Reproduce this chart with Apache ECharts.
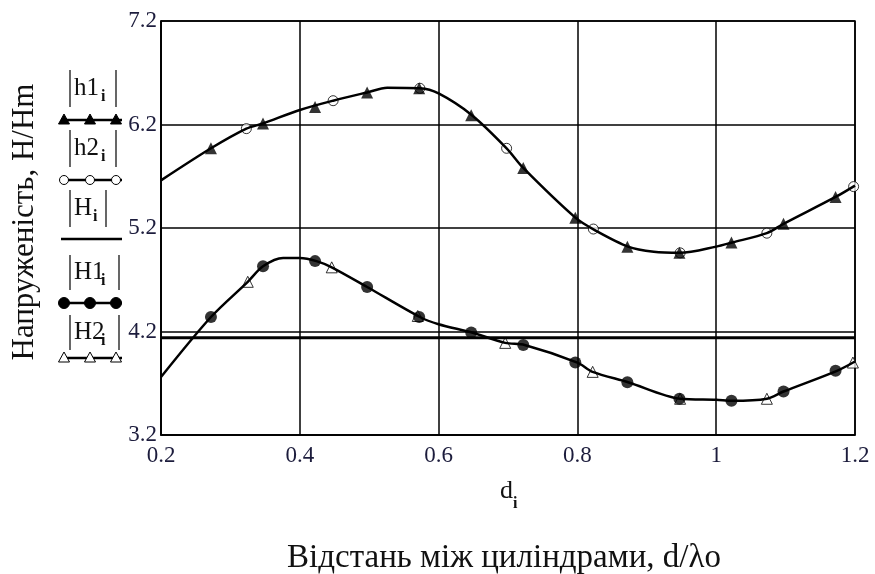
<!DOCTYPE html>
<html>
<head>
<meta charset="utf-8">
<script src="https://cdn.jsdelivr.net/npm/echarts@6/dist/echarts.min.js"></script>
<style>
  html, body { margin: 0; padding: 0; background: #fff; }
  #chart { width: 875px; height: 574px; }
</style>
</head>
<body>
<div id="chart"></div>
<script>
// верхня крива |h1|, |h2| (збігаються)
var dUp = [0.2, 0.272, 0.323, 0.347, 0.4, 0.448, 0.497, 0.526, 0.573, 0.6, 0.648, 0.698, 0.722, 0.797, 0.825, 0.873, 0.91, 0.948, 1.0, 1.023, 1.073, 1.097, 1.172, 1.2]
var vUp = [5.66, 5.97, 6.16, 6.21, 6.34, 6.43, 6.51, 6.555, 6.55, 6.5, 6.29, 5.97, 5.78, 5.30, 5.18, 5.02, 4.97, 4.96, 5.02, 5.06, 5.15, 5.24, 5.50, 5.61]
// нижня крива |H1|, |H2|
var dLow = [0.2, 0.272, 0.325, 0.347, 0.376, 0.4, 0.424, 0.446, 0.497, 0.573, 0.6, 0.648, 0.696, 0.724, 0.8, 0.822, 0.873, 0.948, 1.0, 1.023, 1.073, 1.097, 1.174, 1.2]
var vLow = [3.76, 4.34, 4.68, 4.83, 4.91, 4.91, 4.88, 4.82, 4.63, 4.34, 4.27, 4.19, 4.09, 4.07, 3.90, 3.81, 3.71, 3.55, 3.54, 3.53, 3.55, 3.62, 3.82, 3.91]

// маркери
var dH1m = [0.272, 0.347, 0.422, 0.497, 0.572, 0.647, 0.722, 0.797, 0.872, 0.947, 1.022, 1.097, 1.172]
var vh1m = [5.97, 6.21, 6.37, 6.51, 6.55, 6.29, 5.78, 5.30, 5.02, 4.96, 5.06, 5.24, 5.50]
var dh2m = [0.323, 0.448, 0.573, 0.698, 0.823, 0.948, 1.073, 1.198]
var vh2m = [6.16, 6.43, 6.55, 5.97, 5.19, 4.96, 5.15, 5.60]
var vH1m = [4.34, 4.83, 4.88, 4.63, 4.34, 4.19, 4.07, 3.90, 3.71, 3.55, 3.53, 3.62, 3.82]
var dH2m = [0.325, 0.446, 0.57, 0.696, 0.822, 0.948, 1.073, 1.197]
var vH2m = [4.68, 4.82, 4.35, 4.09, 3.81, 3.55, 3.55, 3.90]

// |H| - стала
var dH = [0.2, 1.2]
var vH = [4.14, 4.14]

function zip(xs, ys) {
    return xs.map(function (x, i) { return [x, ys[i]] })
}

var serif = 'Liberation Serif'
var chart = echarts.init(document.getElementById('chart'))

// легенда в стилі Mathcad
var graphics = []
function bars(y0, y1, xr) {
    graphics.push({ type: 'line', shape: { x1: 70, y1: y0, x2: 70, y2: y1 }, style: { stroke: '#000', lineWidth: 1.2 } })
    graphics.push({ type: 'line', shape: { x1: xr, y1: y0, x2: xr, y2: y1 }, style: { stroke: '#000', lineWidth: 1.2 } })
}
function label(txt, sub, x, yBase) {
    graphics.push({ type: 'text', left: x, top: yBase - 22, style: { text: txt, font: '25px ' + serif, fill: '#111' } })
    graphics.push({ type: 'text', left: x + (txt.length === 1 ? 19 : 27), top: yBase - 9, style: { text: sub, font: 'bold 16px ' + serif, fill: '#111' } })
}
function sample(y, kind) {
    graphics.push({ type: 'line', shape: { x1: 61, y1: y, x2: 122, y2: y }, style: { stroke: '#000', lineWidth: 2.5 } })
    ;[64, 90, 116].forEach(function (x) {
        if (kind === 'tri' || kind === 'otri') {
            graphics.push({ type: 'polygon', shape: { points: [[x, y - 6], [x - 5.5, y + 4], [x + 5.5, y + 4]] },
                style: { fill: kind === 'tri' ? '#000' : '#fff', stroke: '#000', lineWidth: 1 } })
        } else if (kind === 'circ' || kind === 'ocirc') {
            graphics.push({ type: 'circle', shape: { cx: x, cy: y, r: kind === 'circ' ? 5.5 : 4.5 },
                style: { fill: kind === 'circ' ? '#000' : '#fff', stroke: '#000', lineWidth: 1 } })
        }
    })
}
bars(70, 107, 116); label('h1', 'i', 74, 98); sample(120, 'tri')
bars(130, 167, 116); label('h2', 'i', 74, 158); sample(180, 'ocirc')
bars(190, 227, 106); label('H', 'i', 74, 218); sample(239, 'none')
bars(255, 290, 119); label('H1', 'i', 74, 282); sample(303, 'circ')
bars(315, 350, 119); label('H2', 'i', 74, 342); sample(358, 'otri')

graphics.push({ type: 'text', left: 500, top: 478, style: { text: 'd', font: '26px ' + serif, fill: '#111' } })
graphics.push({ type: 'text', left: 513, top: 496, style: { text: 'i', font: 'bold 16px ' + serif, fill: '#111' } })
graphics.push({ type: 'text', x: 504, y: 558, style: { text: 'Відстань між циліндрами, d/λo', font: '33px ' + serif, fill: '#111', align: 'center', verticalAlign: 'middle' } })
graphics.push({ type: 'text', x: 25, y: 222, rotation: Math.PI / 2, style: { text: 'Напруженість, Н/Нm', font: '31px ' + serif, fill: '#111', align: 'center', verticalAlign: 'middle' } })

var option = {
    backgroundColor: '#fff',
    animation: false,
    grid: { left: 161, right: 20, top: 21, bottom: 139, show: true, borderColor: '#000', borderWidth: 1.5 },
    xAxis: {
        type: 'value', min: 0.2, max: 1.2, interval: 0.2,
        axisLine: { show: true, lineStyle: { color: '#000', width: 1.5 } },
        axisTick: { show: false },
        splitLine: { show: true, lineStyle: { color: '#000', width: 1.5 } },
        axisLabel: { color: '#1c1c3c', fontFamily: serif, fontSize: 23, margin: 9,
            formatter: function (v) { return String(Math.round(v * 10) / 10) } }
    },
    yAxis: {
        type: 'value', min: 3.2, max: 7.2, interval: 1,
        axisLine: { show: true, lineStyle: { color: '#000', width: 1.5 } },
        axisTick: { show: false },
        splitLine: { show: true, lineStyle: { color: '#000', width: 1.5 } },
        axisLabel: { color: '#1c1c3c', fontFamily: serif, fontSize: 23, margin: 4,
            formatter: function (v) { return v.toFixed(1) } }
    },
    graphic: graphics,
    series: [
        { name: 'H', type: 'line', data: zip(dH, vH), symbol: 'none', lineStyle: { color: '#000', width: 3 } },
        { name: 'h', type: 'line', data: zip(dUp, vUp), smooth: 0.3, symbol: 'none', lineStyle: { color: '#000', width: 2.5 } },
        { name: 'Hlow', type: 'line', data: zip(dLow, vLow), smooth: 0.3, symbol: 'none', lineStyle: { color: '#000', width: 2.5 } },
        { name: 'h2', type: 'scatter', data: zip(dh2m, vh2m), symbol: 'circle', symbolSize: 10,
            itemStyle: { color: '#fff', borderColor: '#000', borderWidth: 1 } },
        { name: 'h1', type: 'scatter', data: zip(dH1m, vh1m), symbol: 'triangle', symbolSize: 12,
            itemStyle: { color: '#000' } },
        { name: 'H2', type: 'scatter', data: zip(dH2m, vH2m), symbol: 'triangle', symbolSize: 11,
            itemStyle: { color: '#fff', borderColor: '#000', borderWidth: 1 } },
        { name: 'H1', type: 'scatter', data: zip(dH1m, vH1m), symbol: 'circle', symbolSize: 12,
            itemStyle: { color: '#000' } }
    ]
}
chart.setOption(option)
window.addEventListener('resize', function () { chart.resize() })
</script>
</body>
</html>
